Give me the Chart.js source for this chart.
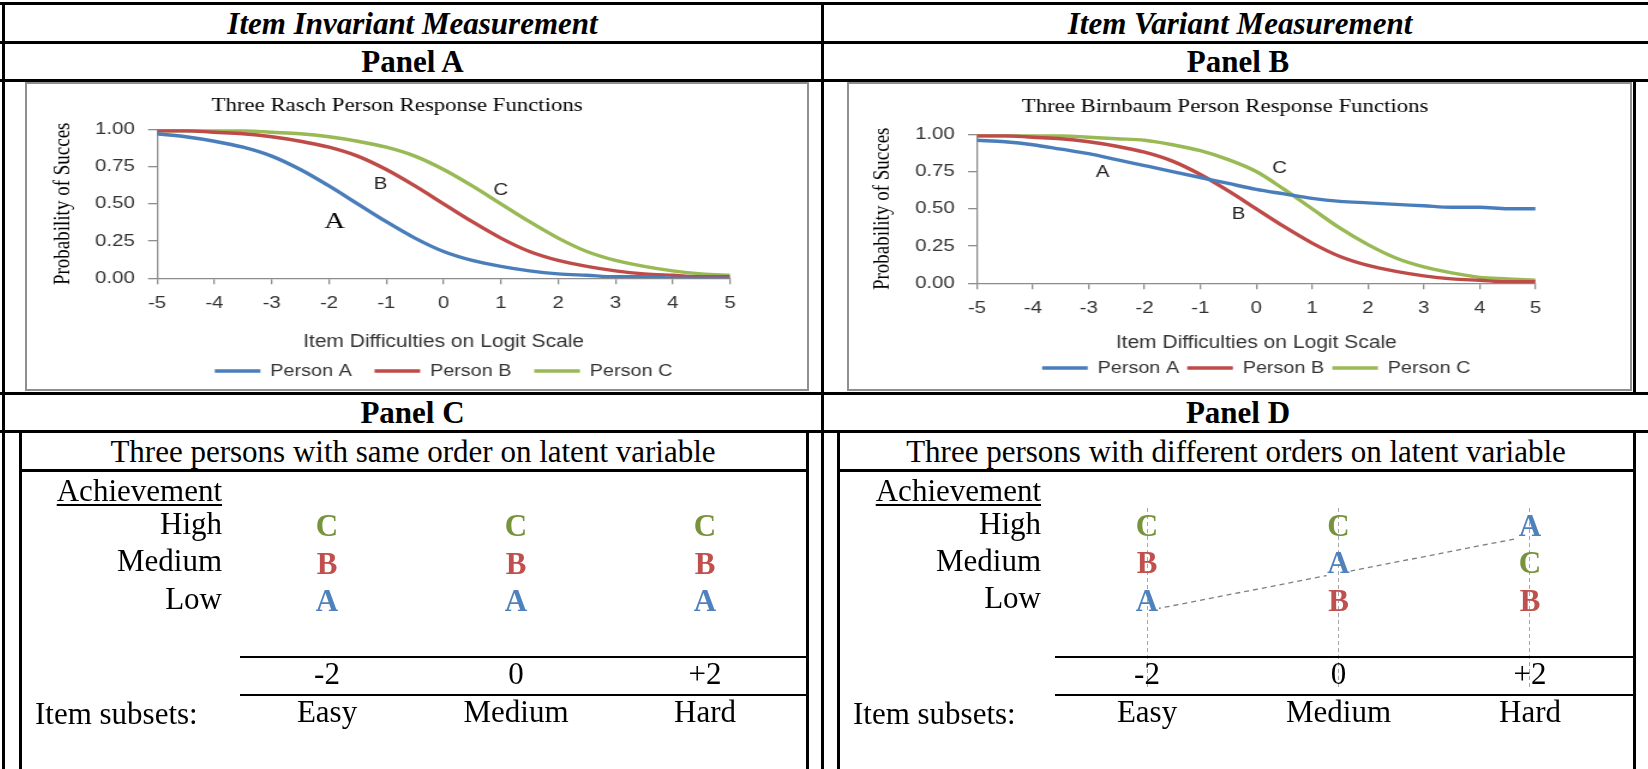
<!DOCTYPE html>
<html>
<head>
<meta charset="utf-8">
<title>Item invariant and item variant measurement</title>
<script src="https://cdn.jsdelivr.net/npm/chart.js@4.4.1/dist/chart.umd.min.js"></script>
<style>
  html, body { margin: 0; padding: 0; background: #fff; }
  body { position: relative; width: 1648px; height: 769px; overflow: hidden;
         font-family: "Liberation Serif", "Times New Roman", serif; color: #000; }
  .h { position: absolute; height: 3px; background: #000; }
  .v { position: absolute; width: 3px; background: #000; }
  .rule { position: absolute; height: 2px; background: #000; }
  .t { position: absolute; white-space: nowrap; line-height: 1; font-size: 31px; }
  .c { transform: translateX(-50%); }
  .r { transform: translateX(-100%); }
  .bi { font-weight: bold; font-style: italic; }
  .b { font-weight: bold; }
  .u { text-decoration: underline; text-decoration-thickness: 2px; text-underline-offset: 3px; }
  .frame { position: absolute; border: 2px solid #8f8f8f; box-sizing: border-box; }
  .stretch { position: absolute; transform: scaleX(1.2); transform-origin: 0 0; }
  .abs { position: absolute; }
</style>
</head>
<body>

<!-- Panel A / B : person response functions -->
<div class="frame" style="left:25px; top:82px; width:784px; height:309px;"></div>
<div class="frame" style="left:847px; top:82px; width:785px; height:309px;"></div>
<div class="stretch" style="left:26px; top:83px;"><canvas id="raschChart" width="650" height="307"></canvas></div>
<div class="stretch" style="left:848px; top:83px;"><canvas id="birnbaumChart" width="650" height="307"></canvas></div>

<!-- Panel C / D : orders of persons -->
<canvas id="sameOrderChart" class="abs" width="783" height="297" style="left:22px; top:472px;"></canvas>
<canvas id="diffOrderChart" class="abs" width="793" height="297" style="left:840px; top:472px;"></canvas>

<!-- table lines -->
<div class="h" style="left:0; top:2px; width:1648px;"></div>
<div class="h" style="left:0; top:41px; width:1648px;"></div>
<div class="h" style="left:0; top:79px; width:1648px;"></div>
<div class="h" style="left:0; top:392px; width:1648px;"></div>
<div class="h" style="left:0; top:430px; width:1648px;"></div>
<div class="h" style="left:19px; top:469px; width:789px;"></div>
<div class="h" style="left:837px; top:469px; width:799px;"></div>
<div class="v" style="left:2px; top:2px; height:767px;"></div>
<div class="v" style="left:821px; top:2px; height:767px;"></div>
<div class="v" style="left:1633px; top:79px; height:316px;"></div>
<div class="v" style="left:18.5px; top:430px; height:339px;"></div>
<div class="v" style="left:805.5px; top:430px; height:339px;"></div>
<div class="v" style="left:837px; top:430px; height:339px;"></div>
<div class="v" style="left:1633px; top:430px; height:339px;"></div>
<div class="rule" style="left:240px; top:655.5px; width:567px;"></div>
<div class="rule" style="left:240px; top:694px; width:567px;"></div>
<div class="rule" style="left:1055px; top:655.5px; width:580px;"></div>
<div class="rule" style="left:1055px; top:694px; width:580px;"></div>

<!-- table text -->
<div class="t c bi" style="left:412.5px; top:7.5px;">Item Invariant Measurement</div>
<div class="t c bi" style="left:1240px; top:7.5px;">Item Variant Measurement</div>
<div class="t c b" style="left:412.5px; top:46px;">Panel A</div>
<div class="t c b" style="left:1238px; top:46px;">Panel B</div>
<div class="t c b" style="left:412.5px; top:397px;">Panel C</div>
<div class="t c b" style="left:1238px; top:397px;">Panel D</div>
<div class="t c" style="left:413px; top:436px;">Three persons with same order on latent variable</div>
<div class="t c" style="left:1236px; top:436px;">Three persons with different orders on latent variable</div>
<div class="t r u" style="left:222px; top:475px;">Achievement</div>
<div class="t r u" style="left:1041px; top:475px;">Achievement</div>
<div class="t" style="left:35px; top:698px;">Item subsets:</div>
<div class="t" style="left:853px; top:698px;">Item subsets:</div>

<script>
// --- DATA ---
const logitPoints = [-5, -4.5, -4, -3.5, -3, -2.5, -2, -1.5, -1, -0.5, 0, 0.5, 1, 1.5, 2, 2.5, 3, 3.5, 4, 4.5, 5];

// Panel A: Rasch person response functions
const raschPersonA = [0.97, 0.95, 0.92, 0.88, 0.82, 0.73, 0.62, 0.50, 0.38, 0.27, 0.18, 0.12, 0.08, 0.05, 0.03, 0.02, 0.01, 0.01, 0.00, 0.00, 0.00];
const raschPersonB = [0.99, 0.99, 0.98, 0.97, 0.95, 0.92, 0.88, 0.82, 0.73, 0.62, 0.50, 0.38, 0.27, 0.18, 0.12, 0.08, 0.05, 0.03, 0.02, 0.01, 0.01];
const raschPersonC = [0.99, 0.99, 0.99, 0.99, 0.98, 0.97, 0.95, 0.92, 0.88, 0.82, 0.73, 0.62, 0.50, 0.38, 0.27, 0.18, 0.12, 0.08, 0.05, 0.03, 0.02];

// Panel B: Birnbaum person response functions
const birnbaumPersonA = [0.96, 0.95, 0.93, 0.90, 0.87, 0.83, 0.79, 0.75, 0.71, 0.67, 0.63, 0.60, 0.57, 0.55, 0.54, 0.53, 0.52, 0.51, 0.51, 0.50, 0.50];
const birnbaumPersonB = [0.99, 0.99, 0.98, 0.97, 0.95, 0.92, 0.88, 0.82, 0.73, 0.62, 0.50, 0.38, 0.27, 0.18, 0.12, 0.08, 0.05, 0.03, 0.02, 0.01, 0.01];
const birnbaumPersonC = [0.99, 0.99, 0.99, 0.99, 0.98, 0.97, 0.96, 0.93, 0.89, 0.83, 0.75, 0.63, 0.50, 0.37, 0.26, 0.17, 0.11, 0.07, 0.04, 0.03, 0.02];

const personNames = ['Person A', 'Person B', 'Person C'];

// curve annotations (data coordinates)
const raschLabelText = ['A', 'B', 'C'];
const raschLabelX = [-1.9, -1.1, 1.0];
const raschLabelY = [0.38, 0.63, 0.59];
const birnbaumLabelText = ['A', 'B', 'C'];
const birnbaumLabelX = [-2.75, -0.32, 0.42];
const birnbaumLabelY = [0.745, 0.46, 0.77];

// Panels C and D
const subsetValues = [-2, 0, 2];
const subsetTicks = ['-2', '0', '+2'];
const subsetNames = ['Easy', 'Medium', 'Hard'];
const levelValues = [1, 2, 3];
const levelNames = ['Low', 'Medium', 'High'];
const personLetters = ['A', 'B', 'C'];
const sameOrderA = [1, 1, 1];
const sameOrderB = [2, 2, 2];
const sameOrderC = [3, 3, 3];
const diffOrderA = [1, 2, 3];
const diffOrderB = [2, 1, 1];
const diffOrderC = [3, 3, 2];

// --- STYLE ---
const SANS = '"Liberation Sans", Arial, sans-serif';
const SERIF = '"Liberation Serif", "Times New Roman", serif';
const lineColors = ['#4A7EBB', '#BE4B48', '#98B954'];
const letterColors = { A: '#4F81BD', B: '#C0504D', C: '#77933C' };
const axisColor = '#8c8c8c';
const textColor = '#333333';

Chart.defaults.font.family = SANS;

// draws the A/B/C labels next to the curves
function curveLabels(texts, xs, ys, serifFirst) {
    return {
        id: 'curveLabels',
        afterDatasetsDraw(chart) {
            const ctx = chart.ctx;
            ctx.save();
            ctx.textAlign = 'center';
            ctx.textBaseline = 'middle';
            texts.forEach((t, i) => {
                const px = chart.scales.x.getPixelForValue(xs[i]);
                const py = chart.scales.y.getPixelForValue(ys[i]);
                if (serifFirst && i === 0) {
                    ctx.font = '24px ' + SERIF;
                    ctx.fillStyle = '#000';
                } else {
                    ctx.font = '17px ' + SANS;
                    ctx.fillStyle = '#222';
                }
                ctx.fillText(t, px, py);
            });
            ctx.restore();
        }
    };
}

function curveChart(id, titleText, series, labelPlugin, g) {
    return new Chart(document.getElementById(id), {
        type: 'line',
        data: {
            datasets: series.map((vals, i) => ({
                label: personNames[i],
                data: logitPoints.map((x, j) => ({ x: x, y: vals[j] })),
                borderColor: lineColors[i],
                backgroundColor: lineColors[i],
                borderWidth: 3.4,
                pointRadius: 0,
                cubicInterpolationMode: 'monotone',
                fill: false
            }))
        },
        options: {
            responsive: false,
            animation: false,
            devicePixelRatio: 1,
            layout: { padding: { left: 0, right: g.padR, top: 0, bottom: g.padB } },
            scales: {
                x: {
                    type: 'linear', min: -5, max: 5,
                    ticks: { stepSize: 1, padding: 9, color: textColor, font: { size: 17 } },
                    grid: { drawOnChartArea: false, tickLength: 6, color: axisColor, lineWidth: 1.3 },
                    border: { color: axisColor, width: 1.3 },
                    title: {
                        display: true, text: 'Item Difficulties on Logit Scale', color: textColor,
                        font: { size: 17.5 }, padding: { top: 0, bottom: g.xTitleBottom }
                    },
                    afterFit: s => { s.height = g.xHeight; }
                },
                y: {
                    min: 0, max: 1,
                    ticks: { stepSize: 0.25, padding: 11, color: textColor, font: { size: 17 },
                             callback: v => v.toFixed(2) },
                    grid: { drawOnChartArea: false, tickLength: 7.5, color: axisColor, lineWidth: 1.3 },
                    border: { color: axisColor, width: 1.3 },
                    title: {
                        display: true, text: 'Probability of Succes', color: '#000',
                        font: { family: SERIF, size: 19 }, padding: { top: g.yTitleTop, bottom: 0 }
                    },
                    afterFit: s => { s.width = g.yWidth; }
                },
                // empty right-hand box, only to place the chart title like the original
                spacer: {
                    axis: 'y', type: 'linear', position: 'right', display: true,
                    ticks: { display: false },
                    grid: { display: false, drawTicks: false },
                    border: { display: false },
                    afterFit: s => { s.width = g.spacer; }
                }
            },
            plugins: {
                title: {
                    display: true, text: titleText, color: '#000',
                    font: { family: SERIF, size: 19, weight: 'normal' },
                    padding: { top: g.titleTop, bottom: g.titleBottom }
                },
                legend: {
                    position: 'bottom',
                    fullSize: false,
                    labels: { boxWidth: 38, boxHeight: 0, padding: g.legendPad, color: textColor, font: { size: 16.5 } }
                },
                tooltip: { enabled: false }
            }
        },
        plugins: [labelPlugin]
    });
}

// letters at the person positions, dashed guide is cut around its letters
const letterPlugin = {
    id: 'letters',
    beforeDatasetDraw(chart, args) {
        const ds = chart.data.datasets[args.index];
        if (!ds.cutAroundLetters) return;
        const ctx = chart.ctx;
        ctx.save();
        ctx.beginPath();
        ctx.rect(0, 0, chart.width, chart.height);
        args.meta.data.forEach(pt => ctx.rect(pt.x - 12, pt.y - 26, 24, 32));
        ctx.clip('evenodd');
    },
    afterDatasetDraw(chart, args) {
        if (chart.data.datasets[args.index].cutAroundLetters) chart.ctx.restore();
    },
    afterDatasetsDraw(chart) {
        const ctx = chart.ctx;
        ctx.save();
        ctx.font = 'bold 31px ' + SERIF;
        ctx.textAlign = 'center';
        ctx.textBaseline = 'alphabetic';
        chart.data.datasets.forEach((ds, i) => {
            ctx.fillStyle = letterColors[ds.letter];
            chart.getDatasetMeta(i).data.forEach(pt => ctx.fillText(ds.letter, pt.x, pt.y));
        });
        ctx.restore();
    }
};

function orderChart(id, rows, withGuides, g) {
    return new Chart(document.getElementById(id), {
        type: 'scatter',
        data: {
            datasets: rows.map((vals, i) => ({
                label: personNames[i],
                letter: personLetters[i],
                data: subsetValues.map((x, j) => ({ x: x, y: vals[j] })),
                pointRadius: 0,
                showLine: withGuides && i === 0,
                cutAroundLetters: withGuides && i === 0,
                borderColor: '#7f7f7f',
                borderWidth: 1.3,
                borderDash: [5, 4]
            }))
        },
        options: {
            responsive: false,
            animation: false,
            devicePixelRatio: 1,
            layout: { padding: { left: 0, right: 0, top: 36, bottom: 0 } },
            scales: {
                x: {
                    type: 'linear', min: g.xMin, max: g.xMax,
                    afterBuildTicks: s => { s.ticks = subsetValues.map(v => ({ value: v })); },
                    ticks: {
                        autoSkip: false, maxRotation: 0, mirror: true, padding: -6.5, color: '#000',
                        font: { family: SERIF, size: 31, lineHeight: 38 / 31 },
                        callback: (v, i) => [subsetTicks[i], subsetNames[i]]
                    },
                    grid: { display: withGuides, drawTicks: false, color: '#a6a6a6', lineWidth: 1 },
                    border: { display: false, dash: [4, 3] },
                    afterFit: s => { s.height = 81; }
                },
                y: {
                    min: -1.07, max: 3.749,
                    afterBuildTicks: s => { s.ticks = levelValues.map(v => ({ value: v })); },
                    ticks: {
                        padding: g.yPad, labelOffset: -10.5, color: '#000',
                        font: { family: SERIF, size: 31 },
                        callback: (v, i) => levelNames[i]
                    },
                    grid: { display: false, drawTicks: false },
                    border: { display: false },
                    afterFit: s => { s.width = g.yWidth; }
                }
            },
            plugins: { legend: { display: false }, tooltip: { enabled: false } }
        },
        plugins: [letterPlugin]
    });
}

curveChart('raschChart', 'Three Rasch Person Response Functions',
    [raschPersonA, raschPersonB, raschPersonC],
    curveLabels(raschLabelText, raschLabelX, raschLabelY, true),
    { padR: 31.6, spacer: 31.7, padB: 0.75, yWidth: 109.2, yTitleTop: 19.4,
      titleTop: 11.6, titleBottom: 11.9, xHeight: 65.45, xTitleBottom: -9.05, legendPad: 19 });

curveChart('birnbaumChart', 'Three Birnbaum Person Response Functions',
    [birnbaumPersonA, birnbaumPersonB, birnbaumPersonC],
    curveLabels(birnbaumLabelText, birnbaumLabelX, birnbaumLabelY, false),
    { padR: 21.6, spacer: 55.5, padB: 3.75, yWidth: 107.5, yTitleTop: 17.8,
      titleTop: 12.3, titleBottom: 16.2, xHeight: 69.65, xTitleBottom: -0.55, legendPad: 6.8 });

orderChart('sameOrderChart', [sameOrderA, sameOrderB, sameOrderC], false,
    { xMin: -2.921, xMax: 3.058, yPad: 18, yWidth: 218 });

orderChart('diffOrderChart', [diffOrderA, diffOrderB, diffOrderC], true,
    { xMin: -2.961, xMax: 3.076, yPad: 14, yWidth: 215 });
</script>
</body>
</html>
